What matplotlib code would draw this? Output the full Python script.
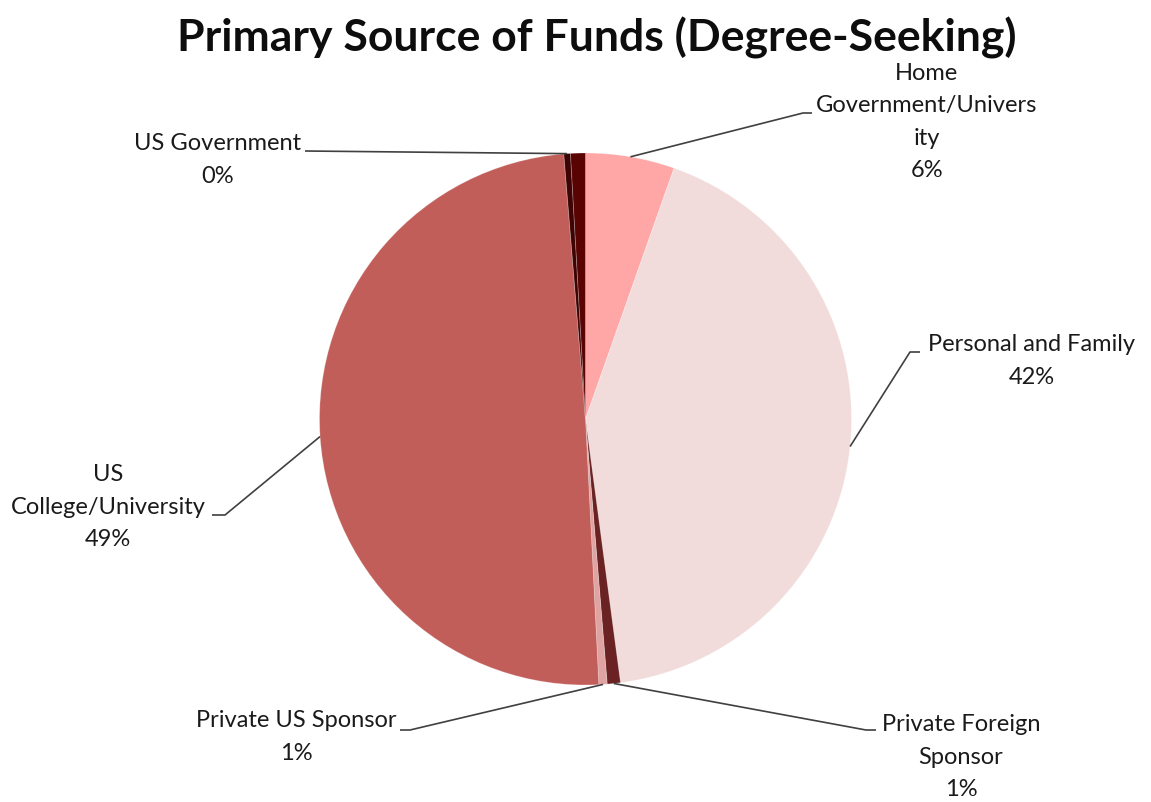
import numpy as np
import matplotlib
matplotlib.use("Agg")
import matplotlib.pyplot as plt

# ---- data ----
categories = ["Home\nGovernment/Univers\nity", "Personal and Family", "Private Foreign\nSponsor",
              "Private US Sponsor", "US\nCollege/University", "US Government", ""]
values = [5.4, 42.5, 0.8, 0.5, 49.5, 0.4, 0.9]
pct_labels = ["6%", "42%", "1%", "1%", "49%", "0%", ""]
colors = ["#FFA6A6", "#F2DCDB", "#6B2222", "#DFA3A2", "#C25E5A", "#3E0404", "#5A0303"]

W, H = 1151, 802
fig = plt.figure(figsize=(W / 100, H / 100), dpi=100)
ax = fig.add_axes([0, 0, 1, 1])
ax.set_xlim(0, W)
ax.set_ylim(0, H)
ax.set_aspect("equal")
ax.axis("off")

cx, cy, R = 585.5, H - 419, 266
wedges, _ = ax.pie(values, colors=colors, startangle=90, counterclock=False,
                   center=(cx, cy), radius=R, frame=True,
                   wedgeprops=dict(linewidth=0.6, edgecolor=(1, 1, 1, 0.25)))
ax.set_xlim(0, W)
ax.set_ylim(0, H)
ax.axis("off")

font = "Lato"
fig.text(597 / W, 1 - 38 / H, "Primary Source of Funds (Degree-Seeking)", ha="center", va="center",
         fontsize=32, fontweight="bold", family=font, color="#0d0d0d")

# label layout: (text center x, text center y in px from top, elbow x, elbow y, end x)
layout = {
    0: (927, 122, 803, 113, 812),
    1: (1032, 361, 910, 352, 920),
    2: (961, 757, 866, 730, 876),
    3: (296, 737, 410, 730, 400),
    4: (108, 507, 225, 515, 212),
    5: (218, 160, 305, 151, 305),
}

cum = np.cumsum([0] + values)
tot = cum[-1]
for i, (cat, pl) in enumerate(zip(categories, pct_labels)):
    if i not in layout:
        continue
    tx, ty, ex, ey, endx = layout[i]
    mid = (cum[i] + cum[i + 1]) / 2 / tot * 2 * np.pi
    sx = cx + R * np.sin(mid)
    sy = cy + R * np.cos(mid)
    ax.plot([sx, ex, endx], [sy, H - ey, H - ey], color="#404040", lw=1.2,
            solid_capstyle="butt", zorder=5)
    ax.text(tx, H - ty, cat + "\n" + pl, ha="center", va="center", fontsize=17,
            family=font, color="#1a1a1a", linespacing=1.68)

fig.savefig("out.png", dpi=100, facecolor="white")
